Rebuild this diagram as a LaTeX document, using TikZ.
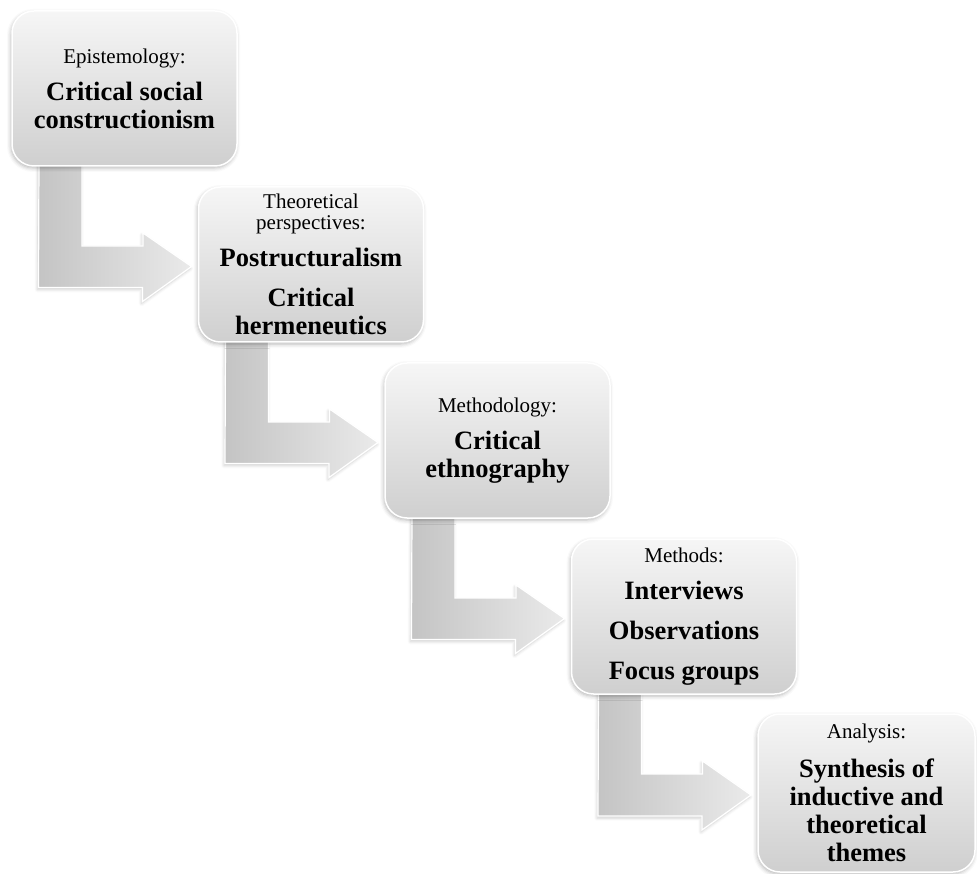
\documentclass[tikz,border=0pt]{standalone}
\usepackage{fontspec}
\setmainfont{Liberation Serif}
\usetikzlibrary{calc,shadows.blur,backgrounds}
\definecolor{boxtop}{HTML}{F6F6F6}
\definecolor{boxbot}{HTML}{CFCFCF}
\definecolor{arrl}{HTML}{C4C4C4}
\definecolor{arrr}{HTML}{EAEAEA}
\newcommand\lbl[1]{{\mdseries\fontsize{21}{21}\selectfont #1}}
\newcommand\bentarrow[2]{%
  \path[arrowshape] ($(#1.north west)+(27,150)$) -- ++(43,0) -- ++(0,85)
    -- ++(61,0) -- ++(0,-13) -- ($(#2.west)+(-7,2)$) -- ++(-49,35)
    -- ++(0,-14) -- ++(-104,0) -- cycle;}
\begin{document}
\begin{tikzpicture}[x=1pt,y=-1pt,
  box/.style={rectangle, rounded corners=22pt, draw=white, line width=1.5pt,
    top color=boxtop, bottom color=boxbot, minimum width=225pt,
    minimum height=155pt, inner sep=0pt, outer sep=0pt, align=center,
    font=\bfseries\fontsize{26.5}{28}\selectfont,
    blur shadow={shadow xshift=-1pt, shadow yshift=-2pt,
      shadow blur radius=4pt, shadow opacity=30}},
  arrowshape/.style={draw=white, line width=1.2pt, left color=arrl,
    right color=arrr,
    blur shadow={shadow xshift=-1pt, shadow yshift=-2pt,
      shadow blur radius=3pt, shadow opacity=20}}]
\useasboundingbox (0,0) rectangle (977,874);
\node[box] (b1) at (124.5,88.5)
  {\lbl{Epistemology:}\\[9pt]Critical social\\constructionism};
\node[box] (b2) at (311,264.5)
  {\lbl{Theoretical}\\[-7pt]\lbl{perspectives:}\\[9pt]Postructuralism\\[12pt]Critical\\hermeneutics};
\node[box] (b3) at (497.5,440.5)
  {\lbl{Methodology:}\\[9pt]Critical\\ethnography};
\node[box] (b4) at (684,616.5)
  {\lbl{Methods:}\\[9pt]Interviews\\[12pt]Observations\\[12pt]Focus groups};
\node[box, minimum width=217pt, minimum height=158pt] (b5) at (866.5,793)
  {\lbl{Analysis:}\\[11pt]Synthesis of\\inductive and\\theoretical\\themes};
\begin{pgfonlayer}{background}
\bentarrow{b1}{b2}
\bentarrow{b2}{b3}
\bentarrow{b3}{b4}
\bentarrow{b4}{b5}
\end{pgfonlayer}
\end{tikzpicture}
\end{document}
